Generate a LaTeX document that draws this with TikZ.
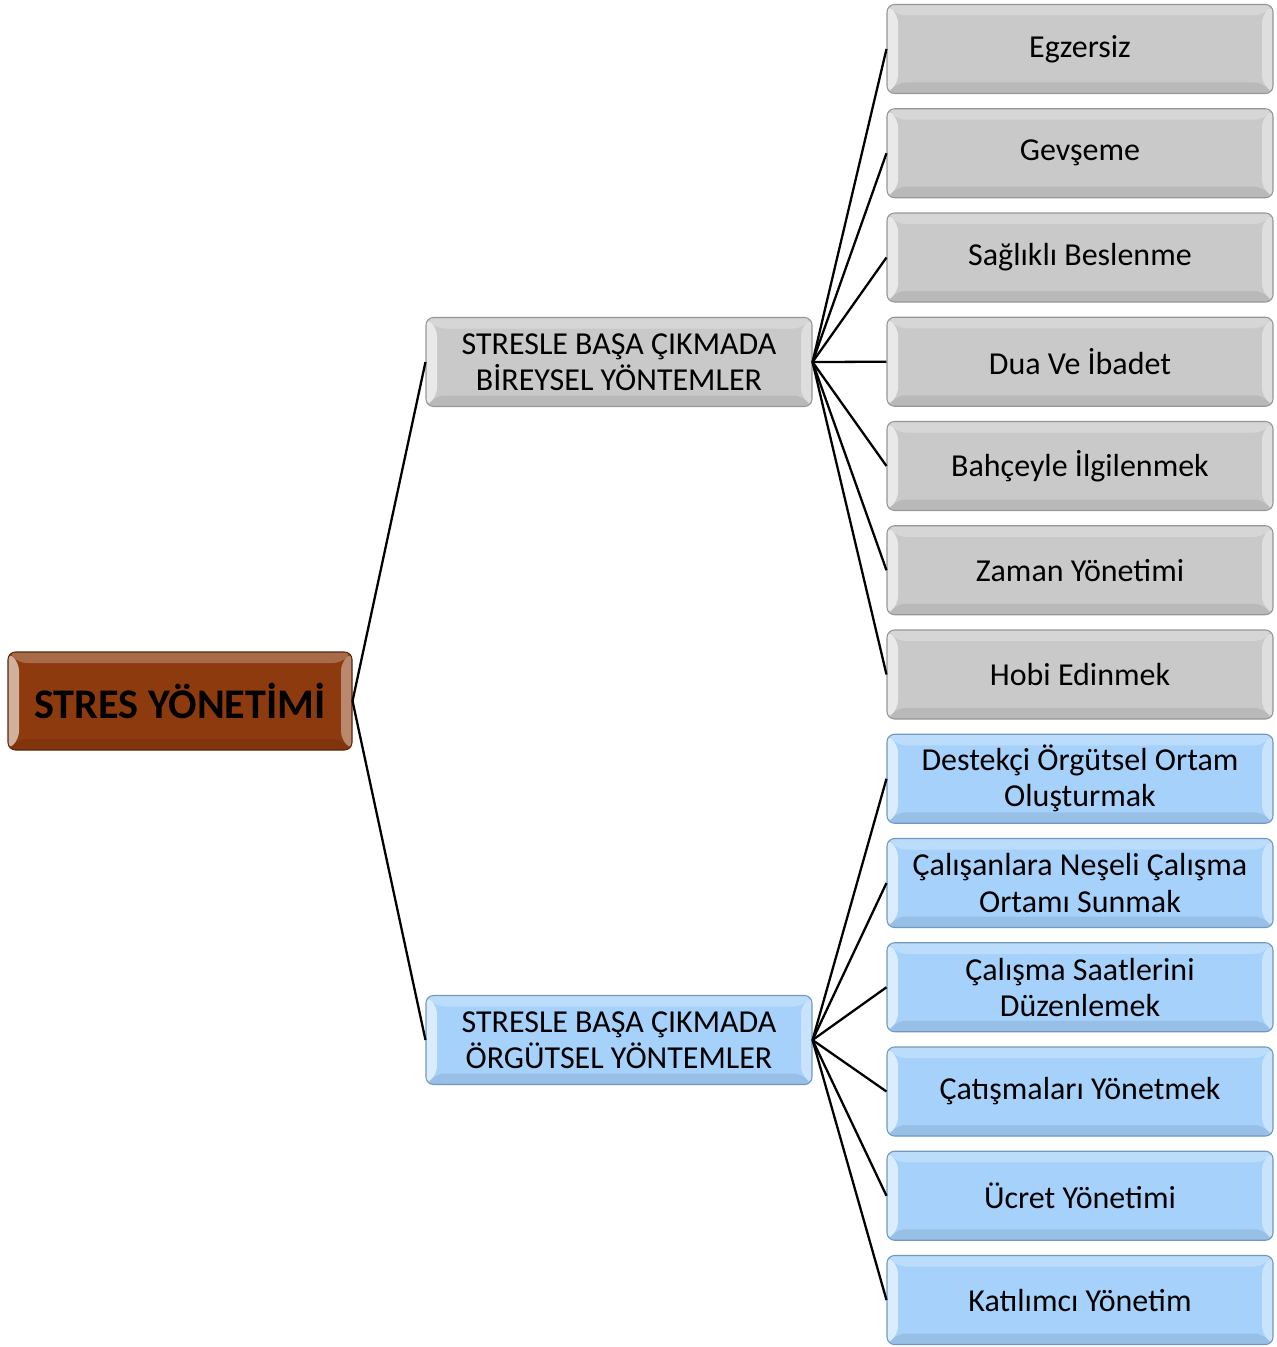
\documentclass[tikz,border=0pt]{standalone}
\usepackage{fontspec}
\setmainfont{Carlito}
\begin{document}
\definecolor{boxgray}{RGB}{201,201,201}
\definecolor{boxgrayline}{RGB}{150,150,150}
\definecolor{boxblue}{RGB}{166,209,250}
\definecolor{boxblueline}{RGB}{112,152,192}
\definecolor{boxbrown}{RGB}{140,58,14}
\definecolor{boxbrownline}{RGB}{92,36,8}
\tikzset{
  bevel/.style={rounded corners=1.5mm, line width=0.6pt, align=center, inner sep=0pt,
    path picture={
      \def\bw{0.22}
      % left and top light, right lighter, bottom dark
      \fill[white, opacity=0.6] (path picture bounding box.north west) -- (path picture bounding box.south west)
        -- ([shift={(\bw,\bw)}]path picture bounding box.south west) -- ([shift={(\bw,-\bw)}]path picture bounding box.north west) -- cycle;
      \fill[white, opacity=0.25] (path picture bounding box.north west) -- (path picture bounding box.north east)
        -- ([shift={(-\bw,-\bw)}]path picture bounding box.north east) -- ([shift={(\bw,-\bw)}]path picture bounding box.north west) -- cycle;
      \fill[white, opacity=0.4] (path picture bounding box.north east) -- (path picture bounding box.south east)
        -- ([shift={(-\bw,\bw)}]path picture bounding box.south east) -- ([shift={(-\bw,-\bw)}]path picture bounding box.north east) -- cycle;
      \fill[black, opacity=0.08] (path picture bounding box.south west) -- (path picture bounding box.south east)
        -- ([shift={(-\bw,\bw)}]path picture bounding box.south east) -- ([shift={(\bw,\bw)}]path picture bounding box.south west) -- cycle;
    }},
  graybox/.style={bevel, fill=boxgray, draw=boxgrayline, minimum width=7.72cm, minimum height=1.78cm,
    font=\fontsize{18.2}{20.5}\selectfont},
  bluebox/.style={graybox, fill=boxblue, draw=boxblueline},
  rootbox/.style={bevel, fill=boxbrown, draw=boxbrownline, minimum width=6.88cm, minimum height=1.96cm,
    font=\fontsize{24}{28}\selectfont\bfseries},
  link/.style={line width=1.3pt, black}
}
\begin{tikzpicture}
  \useasboundingbox (0,0) rectangle (25.52,-26.94);

  % root and the two groups
  \node[rootbox] (root) at (3.6,-14.02) {STRES YÖNETİMİ};
  \node[graybox] (indiv) at (12.38,-7.24) {STRESLE BAŞA ÇIKMADA\\BİREYSEL YÖNTEMLER};
  \node[bluebox] (org) at (12.38,-20.8) {STRESLE BAŞA ÇIKMADA\\ÖRGÜTSEL YÖNTEMLER};

  \draw[link] (root.east) -- (indiv.west);
  \draw[link] (root.east) -- (org.west);

  % individual methods
  \foreach \txt [count=\i] in {Egzersiz, Gevşeme, Sağlıklı Beslenme, Dua Ve İbadet,
      Bahçeyle İlgilenmek, Zaman Yönetimi, Hobi Edinmek}{
    \node[graybox] (r\i) at (21.6,{-0.98-2.085*(\i-1)}) {\txt};
    \draw[link] (indiv.east) -- (r\i.west);
  }

  % organisational methods
  \foreach \txt [count=\i from 8] in {{Destekçi Örgütsel Ortam\\Oluşturmak},
      {Çalışanlara Neşeli Çalışma\\Ortamı Sunmak}, {Çalışma Saatlerini\\Düzenlemek},
      Çatışmaları Yönetmek, Ücret Yönetimi, Katılımcı Yönetim}{
    \node[bluebox] (r\i) at (21.6,{-0.98-2.085*(\i-1)}) {\txt};
    \draw[link] (org.east) -- (r\i.west);
  }
\end{tikzpicture}
\end{document}
